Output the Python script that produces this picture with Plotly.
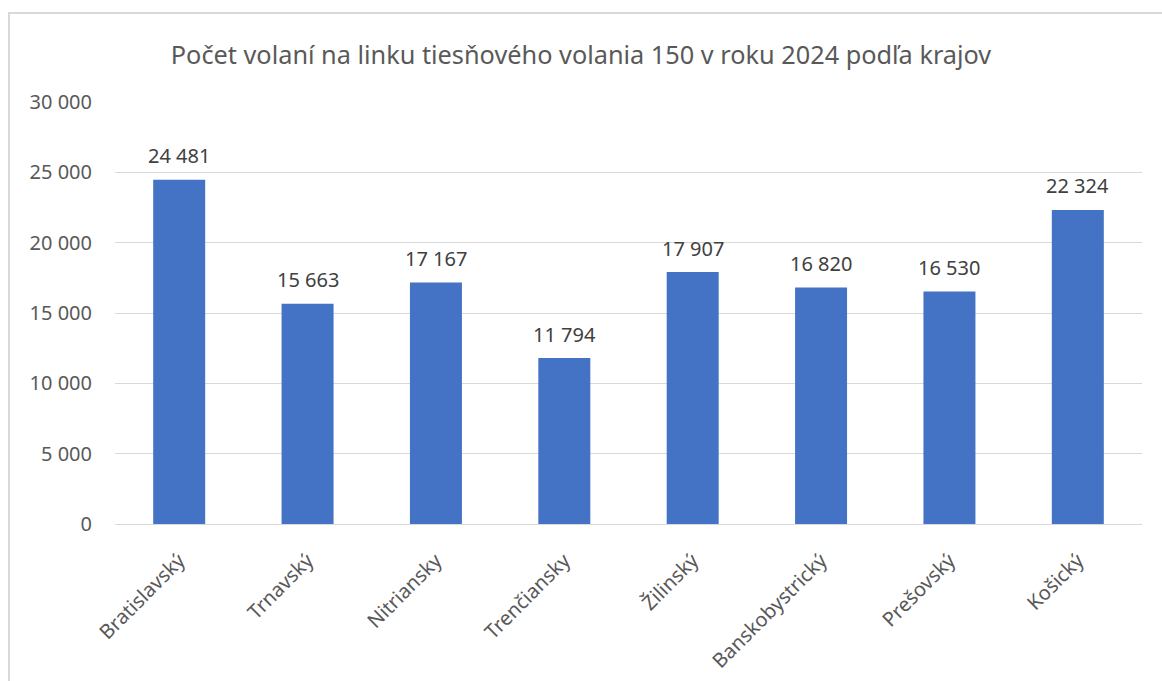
import plotly.graph_objects as go

categories = ["Bratislavský", "Trnavský", "Nitriansky", "Trenčiansky",
              "Žilinský", "Banskobystrický", "Prešovský", "Košický"]
values = [24481, 15663, 17167, 11794, 17907, 16820, 16530, 22324]
title_text = "Počet volaní na linku tiesňového volania 150 v roku 2024 podľa krajov"

W, H = 1162, 681
ml, mr, mt, mb = 115, 20, 102, 157
pw, ph = W - ml - mr, H - mt - mb

FONT = "Noto Sans, Open Sans, sans-serif"


def px_to_paper_x(p):
    return (p - ml) / pw


def px_to_paper_y(p):
    return 1 - (p - mt) / ph


fig = go.Figure(go.Bar(
    x=categories, y=values,
    marker=dict(color="#4472C4", line=dict(width=0)),
    hoverinfo="x+y",
))

annotations = [
    dict(x=c, y=v, xref="x", yref="y", text=f"{v:,}".replace(",", " "),
         showarrow=False, yanchor="middle", xanchor="center", yshift=24,
         font=dict(family=FONT, size=20, color="#404040"))
    for c, v in zip(categories, values)
]

fig.update_layout(
    width=W, height=H,
    autosize=False,
    margin=dict(l=ml, r=mr, t=mt, b=mb, autoexpand=False),
    paper_bgcolor="white", plot_bgcolor="white",
    separators=", ",
    font=dict(family=FONT, color="#595959"),
    title=dict(text=title_text, x=0.5, xanchor="center", y=1 - 55 / H, yanchor="middle",
               font=dict(size=25.3, color="#595959")),
    bargap=0.595,
    showlegend=False,
    annotations=annotations,
    yaxis=dict(range=[0, 30000], tickvals=[0, 5000, 10000, 15000, 20000, 25000, 30000],
               tickformat=",", showgrid=True, gridcolor="#D9D9D9", gridwidth=1,
               zeroline=False, showline=False, ticks="", ticklabelstandoff=22,
               tickfont=dict(size=20, color="#595959")),
    xaxis=dict(tickangle=-45, showline=True, linecolor="#D9D9D9", linewidth=1,
               ticks="", ticklabelstandoff=16, tickfont=dict(size=20, color="#595959")),
    shapes=[dict(type="rect", xref="paper", yref="paper",
                 x0=px_to_paper_x(9), x1=px_to_paper_x(W + 20),
                 y0=px_to_paper_y(H + 20), y1=px_to_paper_y(13),
                 line=dict(color="#D9D9D9", width=2), fillcolor="rgba(0,0,0,0)",
                 layer="below")],
)

fig.write_html("out.html", config={"displayModeBar": False},
               post_script="document.body.style.margin='0';")
